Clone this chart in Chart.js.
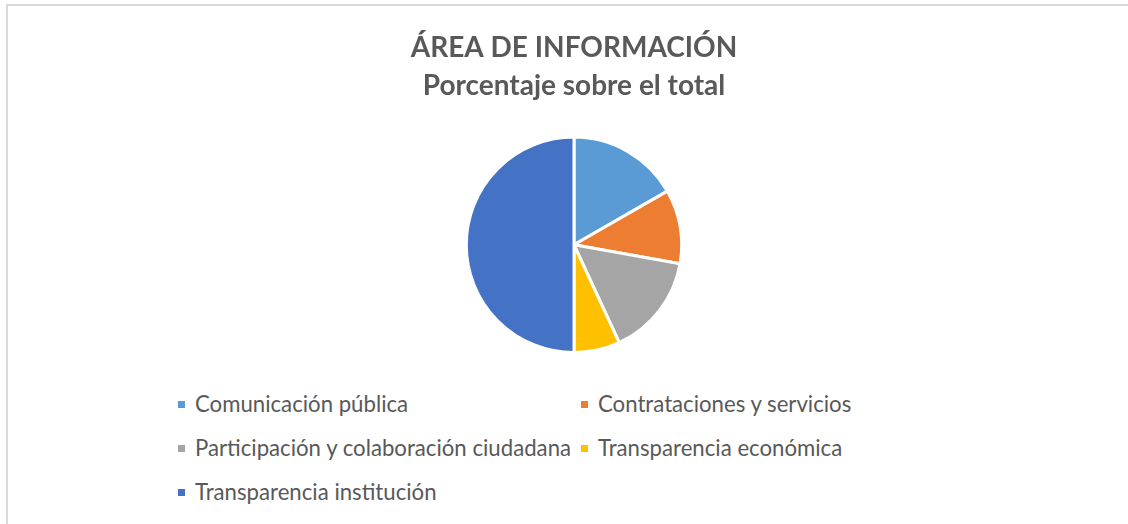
<!DOCTYPE html>
<html>
<head>
<meta charset="utf-8">
<script src="https://cdn.jsdelivr.net/npm/chart.js@4/dist/chart.umd.min.js"></script>
<style>
  html, body { margin: 0; padding: 0; background: #fff; overflow: hidden; }
  body { width: 1128px; height: 524px; position: relative; }
  #frame {
    position: absolute; left: 6px; top: 4px; width: 1140px; height: 540px;
    border-left: 2px solid #d9d9d9; border-top: 2px solid #d9d9d9;
  }
  #chart-wrap { position: absolute; left: 10px; top: 0; width: 1128px; height: 362px; }
  #legend ul { list-style: none; margin: 0; padding: 0; }
  #legend li {
    position: absolute; display: flex; align-items: center;
    font-family: Lato, "Open Sans", sans-serif; font-size: 22.2px; color: #595959;
    white-space: nowrap; line-height: 24px;
  }
  #legend .box { display: block; width: 7px; height: 7px; margin-right: 10px; }
</style>
</head>
<body>
<div id="frame"></div>
<div id="chart-wrap"><canvas id="area-chart"></canvas></div>
<div id="legend"><ul></ul></div>
<script>
// Chart data
const categories = [
  'Comunicación pública',
  'Contrataciones y servicios',
  'Participación y colaboración ciudadana',
  'Transparencia económica',
  'Transparencia institución',
];
const percentages = [16.7, 11.1, 15.3, 6.9, 50.0];
const sliceColors = ['#5B9BD5', '#ED7D31', '#A5A5A5', '#FFC000', '#4472C4'];
const titleLines = ['ÁREA DE INFORMACIÓN', 'Porcentaje sobre el total'];

// legend layout: two columns, three rows
const legendCols = [178, 581];
const legendRows = [392, 436, 480];

const ctx = document.getElementById('area-chart');

const chart = new Chart(ctx, {
  type: 'pie',
  data: {
    labels: categories,
    datasets: [{
      label: 'Porcentaje',
      data: percentages,
      backgroundColor: sliceColors,
      borderColor: '#ffffff',
      borderWidth: 3,
    }],
  },
  options: {
    responsive: true,
    maintainAspectRatio: false,
    animation: false,
    layout: {
      padding: { top: 0, bottom: 8 },
    },
    plugins: {
      title: {
        display: true,
        text: titleLines,
        color: '#595959',
        font: { family: 'Lato, "Open Sans", sans-serif', size: 28, weight: 'bold', lineHeight: 1.35 },
        padding: { top: 29, bottom: 31 },
      },
      legend: { display: false },
      tooltip: { enabled: false },
      htmlLegend: { containerID: 'legend' },
    },
  },
  plugins: [{
    id: 'htmlLegend',
    afterUpdate(c, args, options) {
      const ul = document.getElementById(options.containerID).querySelector('ul');
      while (ul.firstChild) ul.firstChild.remove();
      const items = c.options.plugins.legend.labels.generateLabels(c);
      items.forEach((item, i) => {
        const li = document.createElement('li');
        li.style.left = legendCols[i % 2] + 'px';
        li.style.top = legendRows[Math.floor(i / 2)] + 'px';
        const box = document.createElement('span');
        box.className = 'box';
        box.style.backgroundColor = item.fillStyle;
        li.appendChild(box);
        li.appendChild(document.createTextNode(item.text));
        ul.appendChild(li);
      });
    },
  }],
});
</script>
</body>
</html>
